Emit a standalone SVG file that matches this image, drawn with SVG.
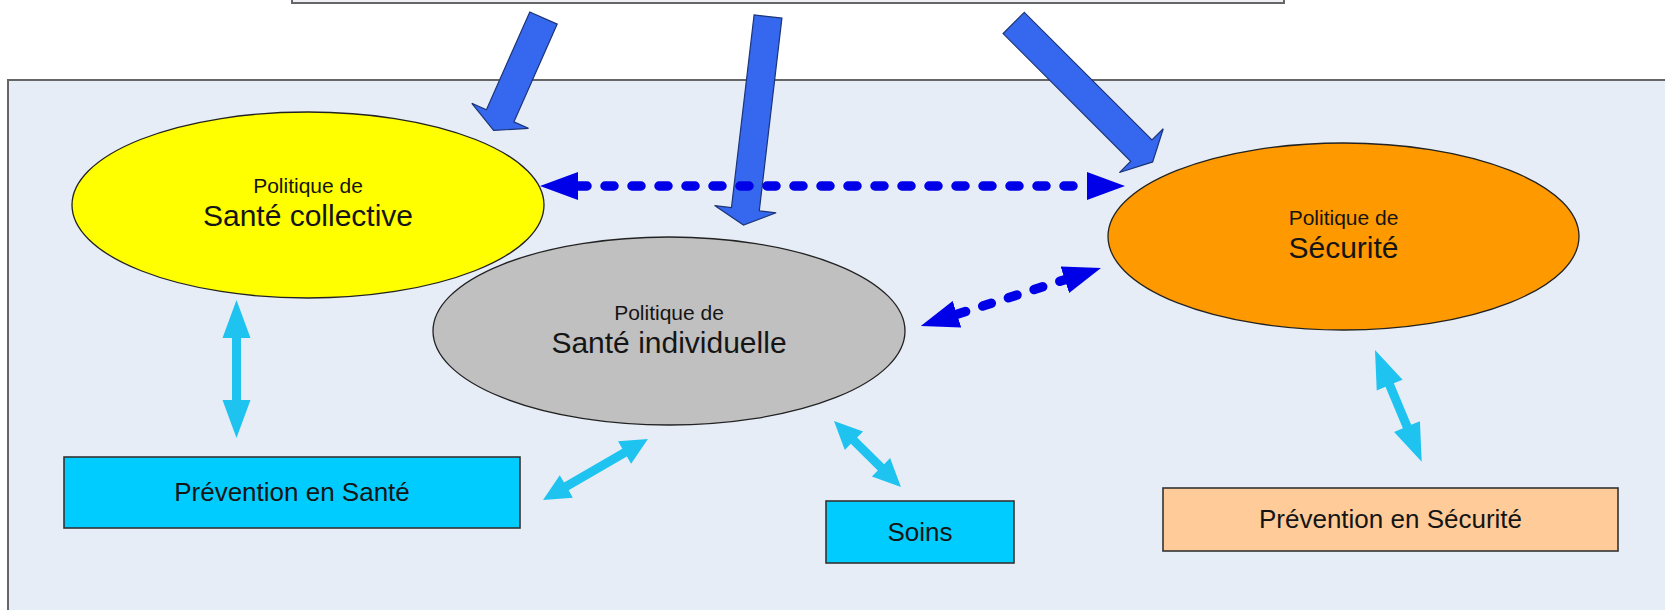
<svg xmlns="http://www.w3.org/2000/svg" width="1665" height="610" viewBox="0 0 1665 610">
<style>
  .ell { stroke: #222; stroke-width: 1.3; }
  .box { stroke: #333; stroke-width: 1.6; }
  .t { font-family: "Liberation Sans", Arial, sans-serif; fill: #151515; text-anchor: middle; }
  .small { font-size: 21px; }
  .big { font-size: 30px; }
  .bt { font-size: 26px; }
  .big-arrow { fill: #3568ee; stroke: #1c3579; stroke-width: 1.2; }
  .cyan { fill: #1ec3f0; }
  .dash { stroke: #0000e8; stroke-width: 9.5; stroke-dasharray: 9 18; stroke-linecap: round; fill: none; marker-start: url(#dh); marker-end: url(#dh); }
</style>
<defs>
  <marker id="dh" viewBox="0 0 38 28" refX="0" refY="14" markerWidth="38" markerHeight="28" markerUnits="userSpaceOnUse" orient="auto-start-reverse">
    <path d="M0,0 L38,14 L0,28 z" fill="#0000e8"/>
  </marker>
</defs>
<rect x="0" y="0" width="1665" height="610" fill="#ffffff"/>
<g id="top-box">
  <rect x="292" y="-50" width="992" height="53" fill="#f0f1f4" stroke="#666" stroke-width="2"/>
</g>
<g id="frame">
  <rect x="8" y="80" width="1700" height="600" fill="#e6edf7" stroke="#666" stroke-width="2"/>
</g>
<g id="node-sante-collective">
  <ellipse class="ell" cx="308" cy="205" rx="236" ry="93" fill="#ffff00"/>
  <text class="t small" x="308" y="193">Politique de</text>
  <text class="t big" x="308" y="226">Santé collective</text>
</g>
<g id="node-sante-individuelle">
  <ellipse class="ell" cx="669" cy="331" rx="236" ry="94" fill="#c0c0c0"/>
  <text class="t small" x="669" y="320">Politique de</text>
  <text class="t big" x="669" y="353">Santé individuelle</text>
</g>
<g id="node-securite">
  <ellipse class="ell" cx="1343.5" cy="236.5" rx="235.5" ry="93.5" fill="#ff9900"/>
  <text class="t small" x="1343.5" y="224.5">Politique de</text>
  <text class="t big" x="1343.5" y="257.5">Sécurité</text>
</g>
<g id="node-prevention-sante">
  <rect class="box" x="64" y="457" width="456" height="71" fill="#00ccff"/>
  <text class="t bt" x="292" y="501">Prévention en Santé</text>
</g>
<g id="node-soins">
  <rect class="box" x="826" y="501" width="188" height="62" fill="#00ccff"/>
  <text class="t bt" x="920" y="541">Soins</text>
</g>
<g id="node-prevention-securite">
  <rect class="box" x="1163" y="488" width="455" height="63" fill="#ffcc99"/>
  <text class="t bt" x="1390.5" y="528">Prévention en Sécurité</text>
</g>
<g id="connectors">
  <polygon class="big-arrow" transform="translate(543.5,18) rotate(113.9)" points="0,-15 107,-15 107,-31 123,0 107,31 107,15 0,15"/>
  <polygon class="big-arrow" transform="translate(768,16.5) rotate(96.7)" points="0,-14 194,-14 194,-31 210,0 194,31 194,14 0,14"/>
  <polygon class="big-arrow" transform="translate(1013.7,23) rotate(45)" points="0,-15 180.5,-15 180.5,-31 196.5,0 180.5,31 180.5,15 0,15"/>
  <line class="dash" x1="578" y1="186" x2="1087" y2="186"/>
  <line class="dash" x1="957" y1="314.3" x2="1064.8" y2="279.7"/>
  <polygon class="cyan" transform="translate(236.5,300) rotate(90)" points="0,0 38,-14 38,-4.5 100,-4.5 100,-14 138,0 100,14 100,4.5 38,4.5 38,14"/>
  <polygon class="cyan" transform="translate(543,500) rotate(-30.2)" points="0,0 27,-13 27,-4.5 94.4,-4.5 94.4,-13 121.4,0 94.4,13 94.4,4.5 27,4.5 27,13"/>
  <polygon class="cyan" transform="translate(834,421) rotate(44.6)" points="0,0 28,-13 28,-4.5 66,-4.5 66,-13 94,0 66,13 66,4.5 28,4.5 28,13"/>
  <polygon class="cyan" transform="translate(1375,350) rotate(67.3)" points="0,0 38,-14 38,-4.5 83,-4.5 83,-14 121,0 83,14 83,4.5 38,4.5 38,14"/>
</g>
</svg>
